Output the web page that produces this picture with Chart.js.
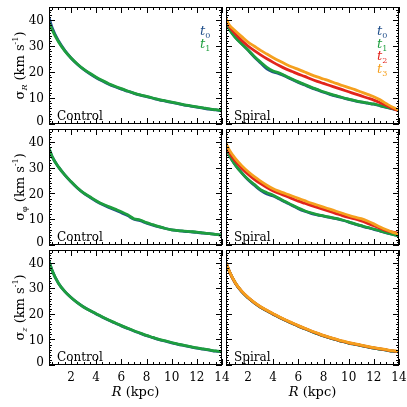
<!DOCTYPE html>
<html>
<head>
<meta charset="utf-8">
<script src="https://cdn.jsdelivr.net/npm/chart.js@4.4.1/dist/chart.umd.min.js"></script>
<style>
  html, body { margin: 0; padding: 0; background: #fff; }
  #wrap { position: relative; width: 407px; height: 407px; }
  #wrap canvas { position: absolute; left: 0; top: 0; }
</style>
</head>
<body>
<div id="wrap"></div>
<script>
// radius grid (kpc)
const rKpc = [0.25, 0.5, 1, 1.5, 2, 2.5, 3, 3.5, 4, 4.5, 5, 5.5, 6, 6.5, 7, 7.5, 8, 8.5, 9, 9.5, 10, 10.5, 11, 11.5, 12, 12.5, 13, 13.5, 14];

// sigma_R
const sigRCtrlT0 = [41, 37, 32, 28.3, 25.4, 23, 21, 19.3, 17.8, 16.5, 15.3, 14.3, 13.4, 12.6, 11.8, 11.1, 10.5, 9.9, 9.3, 8.8, 8.3, 7.8, 7.3, 6.9, 6.5, 6.1, 5.7, 5.4, 5.0];
const sigRCtrlT1 = [39, 36.2, 31.6, 28.1, 25.4, 23.1, 21.1, 19.5, 18.0, 16.7, 15.5, 14.5, 13.6, 12.7, 11.9, 11.2, 10.6, 10.0, 9.4, 8.9, 8.4, 7.9, 7.4, 7.0, 6.6, 6.2, 5.8, 5.5, 5.1];
const sigRSpT0 = [39.5, 36.7, 33.3, 30.9, 28.4, 25.8, 23.5, 21.2, 20.0, 19.3, 18.3, 17.1, 16.0, 15.0, 14.0, 13.1, 12.2, 11.4, 10.7, 10.1, 9.5, 8.9, 8.4, 8.0, 7.6, 7.0, 6.4, 5.8, 5.2];
const sigRSpT1 = [39, 36.5, 33.2, 30.8, 28.5, 26.0, 23.8, 21.8, 20.4, 19.6, 18.5, 17.3, 16.2, 15.2, 14.2, 13.3, 12.4, 11.6, 10.9, 10.2, 9.6, 9.0, 8.5, 8.1, 7.7, 7.1, 6.5, 5.9, 5.2];
const sigRSpT2 = [40, 37.6, 34.6, 32.1, 30.0, 28.2, 26.6, 25.1, 23.7, 22.4, 21.2, 20.2, 19.2, 18.3, 17.3, 16.4, 15.6, 14.8, 14.0, 13.2, 12.4, 11.6, 10.8, 10.0, 9.2, 8.2, 7.1, 6.0, 5.0];
const sigRSpT3 = [40.5, 38.2, 35.8, 33.6, 31.5, 29.9, 28.3, 26.9, 25.5, 24.2, 23.0, 21.9, 21.0, 20.0, 19.0, 18.1, 17.3, 16.5, 15.6, 14.8, 14.0, 13.2, 12.3, 11.4, 10.5, 9.3, 7.8, 6.4, 5.3];

// sigma_phi
const sigPCtrlT0 = [37.5, 34.3, 30.3, 27.2, 24.5, 22.1, 20.1, 18.5, 17.0, 15.7, 14.6, 13.6, 12.5, 11.4, 10.0, 9.4, 8.5, 7.7, 7.0, 6.4, 5.9, 5.6, 5.3, 5.1, 4.9, 4.6, 4.4, 4.1, 3.8];
const sigPCtrlT1 = [37.5, 34.3, 30.3, 27.2, 24.6, 22.2, 20.2, 18.7, 17.2, 15.9, 14.9, 13.9, 12.9, 11.7, 10.2, 9.7, 8.7, 7.9, 7.1, 6.4, 5.9, 5.6, 5.4, 5.2, 5.0, 4.7, 4.4, 4.1, 3.8];
const sigPSpT0 = [38.5, 35, 31, 28, 25.3, 23.2, 21.2, 19.8, 19.0, 17.8, 16.6, 15.3, 14.1, 13.1, 12.3, 11.7, 11.2, 10.7, 10.2, 9.6, 8.9, 8.1, 7.4, 6.7, 6.1, 5.4, 4.7, 4.1, 3.5];
const sigPSpT1 = [38.5, 35, 31, 28, 25.5, 23.5, 21.5, 20.3, 19.3, 18, 16.8, 15.5, 14.3, 13.3, 12.5, 11.8, 11.3, 10.8, 10.3, 9.7, 9.0, 8.2, 7.5, 6.8, 6.2, 5.5, 4.8, 4.1, 3.5];
const sigPSpT2 = [39, 36, 32.5, 29.8, 27.5, 25.5, 23.8, 22.3, 21, 20, 19, 18, 17, 16.2, 15.4, 14.6, 13.8, 13, 12.2, 11.4, 10.7, 10.1, 9.3, 8.4, 7.5, 6.5, 5.6, 5.0, 4.6];
const sigPSpT3 = [39.5, 37, 33.5, 30.8, 28.5, 26.5, 24.8, 23.2, 21.8, 20.8, 19.9, 19, 18.1, 17.2, 16.3, 15.5, 14.7, 13.9, 13.1, 12.3, 11.5, 10.8, 10.2, 9.3, 8.2, 7.0, 5.9, 4.9, 4.1];

// sigma_z
const sigZCtrlT0 = [40.8, 37, 32, 28.8, 26.4, 24.4, 22.7, 21.3, 20.0, 18.7, 17.5, 16.4, 15.3, 14.3, 13.3, 12.4, 11.5, 10.7, 9.9, 9.3, 8.7, 8.1, 7.6, 7.1, 6.6, 6.2, 5.8, 5.4, 5.1];
const sigZCtrlT1 = [40.5, 37, 32, 28.8, 26.4, 24.4, 22.7, 21.3, 20.1, 18.8, 17.6, 16.5, 15.4, 14.4, 13.4, 12.5, 11.6, 10.8, 10.0, 9.4, 8.8, 8.2, 7.7, 7.2, 6.7, 6.3, 5.9, 5.5, 5.2];
const sigZSpT0 = [40, 36.8, 32, 28.7, 26.3, 24.3, 22.6, 21.2, 19.9, 18.6, 17.4, 16.3, 15.2, 14.2, 13.2, 12.3, 11.4, 10.6, 9.9, 9.2, 8.6, 8.1, 7.6, 7.1, 6.6, 6.2, 5.8, 5.4, 5.1];
const sigZSpT1 = [40, 36.8, 32, 28.7, 26.3, 24.3, 22.6, 21.2, 19.9, 18.6, 17.4, 16.3, 15.2, 14.2, 13.2, 12.3, 11.4, 10.6, 9.9, 9.2, 8.6, 8.1, 7.6, 7.1, 6.6, 6.2, 5.8, 5.4, 5.1];
const sigZSpT2 = [40, 36.8, 32, 28.8, 26.4, 24.4, 22.7, 21.3, 20.0, 18.7, 17.5, 16.4, 15.3, 14.3, 13.3, 12.4, 11.5, 10.7, 10.0, 9.3, 8.7, 8.2, 7.7, 7.2, 6.7, 6.3, 5.9, 5.5, 5.2];
const sigZSpT3 = [40, 36.9, 32.1, 28.9, 26.5, 24.5, 22.8, 21.4, 20.1, 18.8, 17.6, 16.5, 15.4, 14.4, 13.4, 12.5, 11.6, 10.8, 10.1, 9.4, 8.8, 8.3, 7.8, 7.3, 6.8, 6.4, 6.0, 5.6, 5.3];

const xTicks = [2, 4, 6, 8, 10, 12, 14];
const yTicks = [0, 10, 20, 30, 40];
const seriesNames = ["0", "1", "2", "3"];
const seriesColors = ["#1f4e8a", "#1e9e3e", "#e2241c", "#f5a01e"];

const X_MIN = 0.25, X_MAX = 14, Y_MIN = 0, Y_MAX = 45;
const colLeft = [49, 226], colRight = [222, 399];
const rowTop = [7, 129, 250], rowBottom = [124, 245, 365];
const SERIF = "'DejaVu Serif', serif";

const panels = [
  { row: 0, col: 0, label: "Control", sub: "R", series: [sigRCtrlT0, sigRCtrlT1] },
  { row: 0, col: 1, label: "Spiral", sub: "R", series: [sigRSpT0, sigRSpT1, sigRSpT2, sigRSpT3] },
  { row: 1, col: 0, label: "Control", sub: "φ", series: [sigPCtrlT0, sigPCtrlT1] },
  { row: 1, col: 1, label: "Spiral", sub: "φ", series: [sigPSpT0, sigPSpT1, sigPSpT2, sigPSpT3] },
  { row: 2, col: 0, label: "Control", sub: "z", series: [sigZCtrlT0, sigZCtrlT1] },
  { row: 2, col: 1, label: "Spiral", sub: "z", series: [sigZSpT0, sigZSpT1, sigZSpT2, sigZSpT3] }
];

function drawRich(ctx, parts, x, y) {
  let cx = x;
  parts.forEach((p) => {
    ctx.font = p.font;
    ctx.fillText(p.t, cx, y + (p.dy || 0));
    cx += ctx.measureText(p.t).width;
  });
}

function richWidth(ctx, parts) {
  let w = 0;
  parts.forEach((p) => {
    ctx.font = p.font;
    w += ctx.measureText(p.t).width;
  });
  return w;
}

const framePlugin = {
  id: "frame",
  afterDatasetsDraw(chart, args, opts) {
    const ctx = chart.ctx;
    const a = chart.chartArea;
    const xs = chart.scales.x;
    const ys = chart.scales.y;
    const p = opts.panel;

    ctx.save();
    ctx.strokeStyle = "#000";
    ctx.lineWidth = 1;
    ctx.strokeRect(a.left + 0.5, a.top + 0.5, a.right - a.left - 1, a.bottom - a.top - 1);

    ctx.beginPath();
    // x ticks, top and bottom, inward
    for (let v = 0.5; v <= X_MAX + 0.001; v += 0.5) {
      if (v < X_MIN) continue;
      const px = Math.round(xs.getPixelForValue(v)) + 0.5;
      const len = Math.abs(v % 2) < 0.001 ? 6 : 3;
      ctx.moveTo(px, a.bottom);
      ctx.lineTo(px, a.bottom - len);
      ctx.moveTo(px, a.top);
      ctx.lineTo(px, a.top + len);
    }
    // y ticks, left and right, inward
    for (let v = 0; v <= Y_MAX; v += 1) {
      const py = Math.round(ys.getPixelForValue(v)) + 0.5;
      const len = v % 10 === 0 ? 6 : (v % 2 === 0 ? 3 : 2);
      ctx.moveTo(a.left, py);
      ctx.lineTo(a.left + len, py);
      ctx.moveTo(a.right, py);
      ctx.lineTo(a.right - len, py);
    }
    ctx.stroke();

    ctx.fillStyle = "#000";
    ctx.font = "12px " + SERIF;

    if (p.col === 0) {
      ctx.textAlign = "right";
      ctx.textBaseline = "middle";
      yTicks.forEach((v) => {
        const py = ys.getPixelForValue(v) + (v === 0 ? -2 : 1);
        ctx.fillText(String(v), a.left - 5, py);
      });

      // y title
      const parts = [
        { t: "σ", font: "13px " + SERIF },
        { t: p.sub, font: (p.sub === "φ" ? "" : "italic ") + "8px " + SERIF, dy: 3 },
        { t: " (km s", font: "13px " + SERIF },
        { t: "-1", font: "8px " + SERIF, dy: -6 },
        { t: ")", font: "13px " + SERIF }
      ];
      ctx.save();
      ctx.translate(24, (a.top + a.bottom) / 2);
      ctx.rotate(-Math.PI / 2);
      ctx.textAlign = "left";
      ctx.textBaseline = "alphabetic";
      const w = richWidth(ctx, parts);
      drawRich(ctx, parts, -w / 2, 0);
      ctx.restore();
    }

    if (p.row === 2) {
      ctx.textAlign = "center";
      ctx.textBaseline = "middle";
      ctx.font = "12px " + SERIF;
      xTicks.forEach((v) => {
        ctx.fillText(String(v), xs.getPixelForValue(v), a.bottom + 13);
      });
      const parts = [
        { t: "R", font: "italic 13px " + SERIF },
        { t: " (kpc)", font: "13px " + SERIF }
      ];
      ctx.textAlign = "left";
      ctx.textBaseline = "alphabetic";
      const w = richWidth(ctx, parts);
      drawRich(ctx, parts, (a.left + a.right) / 2 - w / 2, a.bottom + 31);
    }

    // panel label
    ctx.textAlign = "left";
    ctx.textBaseline = "alphabetic";
    ctx.font = "12px " + SERIF;
    ctx.fillStyle = "#000";
    ctx.fillText(p.label, a.left + 8, a.bottom - 4);

    // legend, top row only
    if (p.row === 0) {
      p.series.forEach((s, i) => {
        ctx.fillStyle = seriesColors[i];
        drawRich(ctx, [
          { t: "t", font: "italic 13px " + SERIF },
          { t: seriesNames[i], font: "8px " + SERIF, dy: 3 }
        ], a.right - 22, a.top + 28 + i * 12.5);
      });
    }
    ctx.restore();
  }
};

const wrap = document.getElementById("wrap");

panels.forEach((p) => {
  const canvas = document.createElement("canvas");
  canvas.width = 407;
  canvas.height = 407;
  wrap.appendChild(canvas);

  const datasets = p.series.map((vals, i) => ({
    label: "t" + seriesNames[i],
    data: rKpc.map((r, k) => ({ x: r, y: vals[k] })),
    borderColor: seriesColors[i],
    backgroundColor: seriesColors[i],
    borderWidth: 2.8,
    pointRadius: 0,
    cubicInterpolationMode: "monotone",
    order: 10 - i
  }));

  new Chart(canvas.getContext("2d"), {
    type: "line",
    data: { datasets },
    options: {
      responsive: false,
      animation: false,
      events: [],
      layout: {
        padding: {
          left: colLeft[p.col],
          right: 407 - colRight[p.col],
          top: rowTop[p.row],
          bottom: 407 - rowBottom[p.row]
        }
      },
      plugins: {
        legend: { display: false },
        tooltip: { enabled: false },
        frame: { panel: p }
      },
      scales: {
        x: { type: "linear", min: X_MIN, max: X_MAX, display: false },
        y: { type: "linear", min: Y_MIN, max: Y_MAX, display: false }
      }
    },
    plugins: [framePlugin]
  });
});
</script>
</body>
</html>
